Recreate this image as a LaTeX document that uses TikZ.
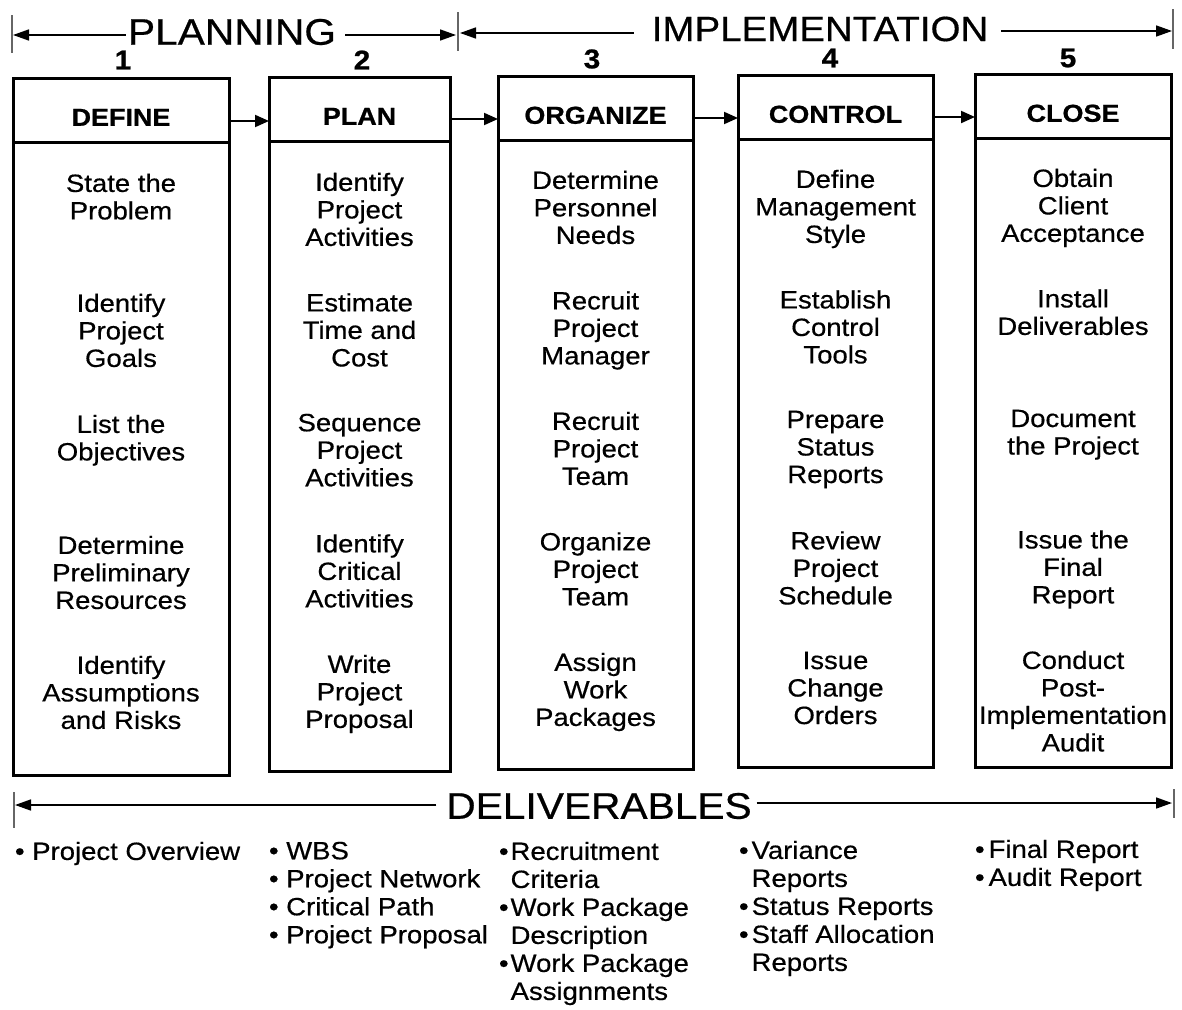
\documentclass[tikz,border=0pt]{standalone}
\usepackage{fontspec}
\setmainfont{Liberation Sans}[FakeStretch=1.1, UprightFeatures={FakeBold=0.5}, BoldFeatures={FakeBold=0.9}]
\usetikzlibrary{arrows.meta}
\begin{document}
\begin{tikzpicture}[x=1pt,y=-1pt,
 every node/.style={inner sep=0pt, outer sep=0pt},
 boxline/.style={line width=3pt},
 headbox/.style={draw, boxline, font=\fontsize{24.5}{27}\selectfont\bfseries, text height=31.5pt, text depth=0pt},
 bodybox/.style={draw, boxline},
 num/.style={font=\fontsize{27}{30}\selectfont\bfseries},
 act/.style={anchor=north, align=center, font=\fontsize{25}{27.5}\selectfont, execute at begin node={\rule{0pt}{18pt}}},
 deliv/.style={anchor=north west, align=left, font=\fontsize{25}{28}\selectfont, execute at begin node={\rule{0pt}{18pt}}},
 big/.style={font=\fontsize{37}{40}\selectfont},
 flow/.style={line width=2pt, -{Triangle[length=14pt,width=12pt]}},
 span/.style={line width=1.6pt, -{Triangle[length=16pt,width=11pt]}},
 bar/.style={line width=1.2pt, black!60},
]
\fill[white] (0,0) rectangle (1182,1009);
\useasboundingbox (0,0) rectangle (1182,1009);

% ---- phase boxes ----
\node[headbox, minimum width=216pt, minimum height=64pt] (h1) at (121,110) {DEFINE};
\node[bodybox, minimum width=216pt, minimum height=633pt] (b1) at (121,458.5) {};
\node[headbox, minimum width=181pt, minimum height=64pt] (h2) at (359.5,109) {PLAN};
\node[bodybox, minimum width=181pt, minimum height=630pt] (b2) at (359.5,456) {};
\node[headbox, minimum width=195pt, minimum height=64pt] (h3) at (595.5,108) {ORGANIZE};
\node[bodybox, minimum width=195pt, minimum height=629pt] (b3) at (595.5,454.5) {};
\node[headbox, minimum width=195pt, minimum height=64pt] (h4) at (835.5,107) {CONTROL};
\node[bodybox, minimum width=195pt, minimum height=628pt] (b4) at (835.5,453) {};
\node[headbox, minimum width=196pt, minimum height=64pt] (h5) at (1073,106) {CLOSE};
\node[bodybox, minimum width=196pt, minimum height=629pt] (b5) at (1073,452.5) {};

% ---- numbers ----
\node[num] (n1) at (123,60) {1};
\node[num] (n2) at (362,60) {2};
\node[num] (n3) at (592,59) {3};
\node[num] (n4) at (830,58) {4};
\node[num] (n5) at (1068,58) {5};

% ---- flow arrows ----
\coordinate (r1) at (0,121);
\coordinate (r2) at (0,119);
\coordinate (r3) at (0,118);
\coordinate (r4) at (0,117);
\draw[flow] (h1.east |- r1) -- (h2.west |- r1);
\draw[flow] (h2.east |- r2) -- (h3.west |- r2);
\draw[flow] (h3.east |- r3) -- (h4.west |- r3);
\draw[flow] (h4.east |- r4) -- (h5.west |- r4);

% ---- activities ----
\node[act] (a11) at (121,173.8) {State the\\Problem};
\node[act] (a12) at (121,293.8) {Identify\\Project\\Goals};
\node[act] (a13) at (121,414.8) {List the\\Objectives};
\node[act] (a14) at (121,535.8) {Determine\\Preliminary\\Resources};
\node[act] (a15) at (121,655.8) {Identify\\Assumptions\\and Risks};

\node[act] (a21) at (359.5,172.8) {Identify\\Project\\Activities};
\node[act] (a22) at (359.5,293.3) {Estimate\\Time and\\Cost};
\node[act] (a23) at (359.5,413.8) {Sequence\\Project\\Activities};
\node[act] (a24) at (359.5,534.3) {Identify\\Critical\\Activities};
\node[act] (a25) at (359.5,654.8) {Write\\Project\\Proposal};

\node[act] (a31) at (595.5,170.8) {Determine\\Personnel\\Needs};
\node[act] (a32) at (595.5,291.3) {Recruit\\Project\\Manager};
\node[act] (a33) at (595.5,411.8) {Recruit\\Project\\Team};
\node[act] (a34) at (595.5,532.3) {Organize\\Project\\Team};
\node[act] (a35) at (595.5,652.8) {Assign\\Work\\Packages};

\node[act] (a41) at (835.5,169.8) {Define\\Management\\Style};
\node[act] (a42) at (835.5,290.3) {Establish\\Control\\Tools};
\node[act] (a43) at (835.5,410.8) {Prepare\\Status\\Reports};
\node[act] (a44) at (835.5,531.3) {Review\\Project\\Schedule};
\node[act] (a45) at (835.5,651.8) {Issue\\Change\\Orders};

\node[act] (a51) at (1073,168.8) {Obtain\\Client\\Acceptance};
\node[act] (a52) at (1073,289.3) {Install\\Deliverables};
\node[act] (a53) at (1073,409.8) {Document\\the Project};
\node[act] (a54) at (1073,530.3) {Issue the\\Final\\Report};
\node[act] (a55) at (1073,650.8) {Conduct\\Post-\\Implementation\\Audit};

% ---- top spans ----
\node[big] (planning) at (232,32) {PLANNING};
\node[font=\fontsize{35}{38}\selectfont] (implementation) at (820,29) {IMPLEMENTATION};
\coordinate (pl) at (13,35);
\coordinate (pm) at (456,35);
\coordinate (im) at (460,33);
\coordinate (ir) at (1172,31);
\draw[span, shorten <=2pt] (planning.west |- pl) -- (pl);
\draw[span, shorten <=9pt] (planning.east |- pm) -- (pm);
\draw[span, shorten <=18pt] (implementation.west |- im) -- (im);
\draw[span, shorten <=13pt] (implementation.east |- ir) -- (ir);
\draw[bar] (12,15) -- (12,53);
\draw[bar] (458,12) -- (458,51);
\draw[bar] (1173,9) -- (1173,49);

% ---- deliverables span ----
\node[big] (deliverables) at (599,806) {DELIVERABLES};
\coordinate (dl) at (15,805);
\coordinate (dr) at (1172,803);
\draw[span, shorten <=10pt] (deliverables.west |- dl) -- (dl);
\draw[span, shorten <=5pt] (deliverables.east |- dr) -- (dr);
\draw[bar] (14,792) -- (14,828);
\draw[bar] (1174,789) -- (1174,818);

% ---- deliverable lists ----
\node[deliv] (d1) at (15,841.8) {• Project Overview};
\node[deliv] (d2) at (269,841.8) {• WBS\\• Project Network\\• Critical Path\\• Project Proposal};
\node[deliv] (d3) at (499,841.8) {•\kern2pt Recruitment\\\phantom{•\kern2pt}Criteria\\•\kern2pt Work Package\\\phantom{•\kern2pt}Description\\•\kern2pt Work Package\\\phantom{•\kern2pt}Assignments};
\node[deliv] (d4) at (739,840.8) {•\kern3pt Variance\\\phantom{•\kern3pt}Reports\\•\kern3pt Status Reports\\•\kern3pt Staff Allocation\\\phantom{•\kern3pt}Reports};
\node[deliv] (d5) at (975,839.8) {•\kern4pt Final Report\\•\kern4pt Audit Report};
\end{tikzpicture}
\end{document}
